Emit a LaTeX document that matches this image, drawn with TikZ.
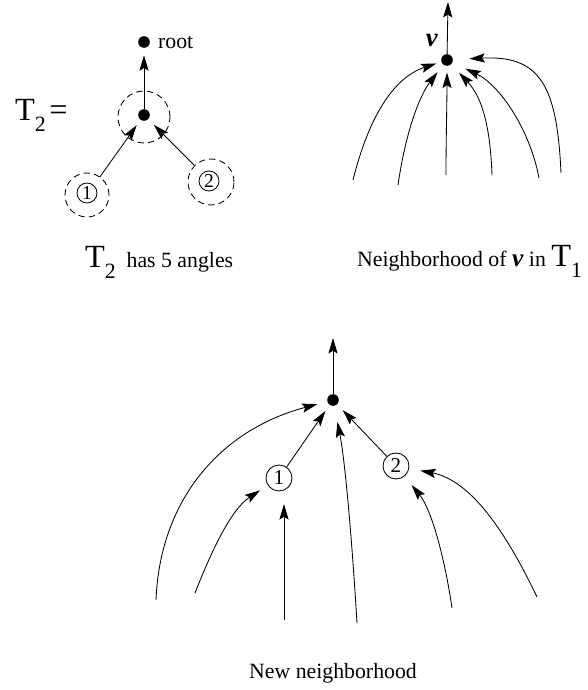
\documentclass[tikz,border=0pt]{standalone}
\usepackage{fontspec}
\setmainfont{Liberation Serif}
\usetikzlibrary{arrows.meta,positioning}

% T with a lowered index
\newcommand{\Tidx}[1]{{\fontsize{23}{25}\selectfont T}\raisebox{-8pt}{#1}}

\begin{document}
\begin{tikzpicture}[x=0.025cm,y=-0.025cm,line width=0.6pt,
  font=\fontsize{15.5}{18}\selectfont,
  dot/.style={circle,fill,inner sep=0pt,minimum size=0.29cm},
  num/.style={circle,draw,inner sep=0pt,minimum size=0.5cm,font=\fontsize{14}{16}\selectfont},
  bignum/.style={num,minimum size=0.65cm,font=\fontsize{15}{18}\selectfont},
  ring/.style={circle,draw,dash pattern=on 4.5pt off 3pt,inner sep=0pt},
  arr/.style={-{Stealth[length=11pt,width=6.5pt,inset=2pt]},shorten >=#1},
  arr/.default=4pt]

  \useasboundingbox (0,0) rectangle (587,690);

  % T_2 as a tree
  \node[dot] (root) at (144,42) {};
  \node[right=2pt of root] (rootlbl) {root};
  \node[dot] (m) at (144,115) {};
  \node[ring,minimum size=1.3cm] (mring) at (144,117) {};
  \node[num] (a) at (87,193) {1};
  \node[ring,minimum size=1.1cm] (aring) at (87,195) {};
  \node[num] (b) at (209,181) {2};
  \node[ring,minimum size=1.15cm] (bring) at (211,182) {};
  \draw[arr=5pt] (m) -- (root);
  \draw[arr=4.5pt] (aring) -- (m);
  \draw[arr=5.5pt] (bring) -- (m);
  \node[anchor=base west] (t2eq) at (10,120) {\Tidx{2}\,{\fontsize{23}{25}\selectfont =}};
  \node[anchor=base west] (t2cap) at (80,267) {\Tidx{2}\ \ has 5 angles};

  % neighborhood of v in T_1
  \node[dot] (v) at (447,60) {};
  \node (vlbl) at (432,40) {\fontsize{19}{19}\selectfont\textbf{\textit{v}}};
  \coordinate (vtop) at (448,2);
  \draw[arr=0pt] (v) -- (vtop);
  \coordinate (p1) at (353,180);
  \coordinate (p2) at (398,185);
  \coordinate (p3) at (446,175);
  \coordinate (p4) at (492,175);
  \coordinate (p5) at (539,178);
  \coordinate (p6) at (561,173);
  \draw[arr=3.5pt] (p1) .. controls (368,120) and (392,78) .. (v);
  \draw[arr=6.5pt] (p2) .. controls (406,130) and (420,95) .. (v);
  \draw[arr=4.5pt] (p3) .. controls (446,140) and (447,100) .. (v);
  \draw[arr=8pt] (p4) .. controls (490,120) and (480,95) .. (v);
  \draw[arr=10pt] (p5) .. controls (530,130) and (500,85) .. (v);
  \draw[arr=11.5pt] (p6) .. controls (557,85) and (540,55) .. (v);
  \node[anchor=base west] (nbcap) at (352,266) {Neighborhood of {\fontsize{18}{18}\selectfont\textbf{\textit{v}}} in \Tidx{1}};

  % new neighborhood
  \node[dot] (w) at (333,400) {};
  \coordinate (wtop) at (333,338);
  \draw[arr=0pt] (w) -- (wtop);
  \node[bignum] (c) at (279,478) {1};
  \node[bignum] (d) at (396,466) {2};
  \draw[arr=5pt] (c) -- (w);
  \draw[arr=5.5pt] (d) -- (w);
  \coordinate (q1) at (156,600);
  \coordinate (q2) at (195,593);
  \coordinate (q3) at (284,620);
  \coordinate (q4) at (357,623);
  \coordinate (q5) at (452,608);
  \coordinate (q6) at (537,597);
  \draw[arr=7pt] (q1) .. controls (160,500) and (220,430) .. (w);
  \draw[arr=6.5pt] (q2) .. controls (210,555) and (230,510) .. (c);
  \draw[arr=9pt] (q3) -- (q3 |- c.south);
  \draw[arr=11.5pt] (q4) .. controls (352,540) and (345,460) .. (w);
  \draw[arr=8pt] (q5) .. controls (445,560) and (432,510) .. (d);
  \draw[arr=8pt] (q6) .. controls (505,530) and (470,480) .. (d);
  \node[anchor=base] (newcap) at (333,678) {New neighborhood};

\end{tikzpicture}
\end{document}
